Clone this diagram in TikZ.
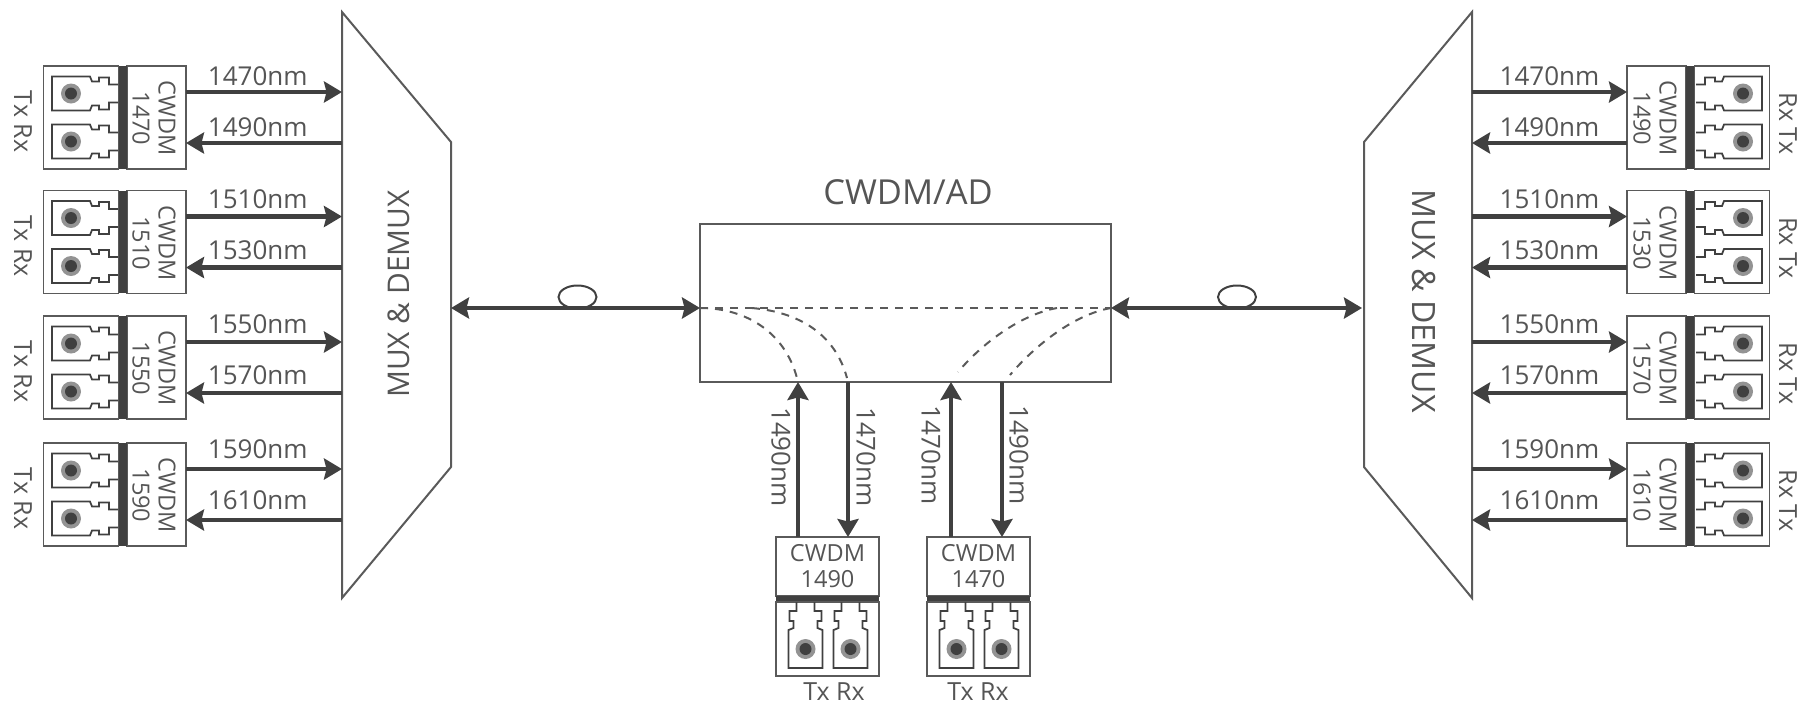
\documentclass[tikz,border=0pt]{standalone}
\usepackage{fontspec}
\setmainfont{Open Sans}
\usetikzlibrary{positioning,arrows.meta}
\definecolor{linegray}{HTML}{5A5A5A}
\definecolor{fibergray}{HTML}{404040}
\definecolor{txtgray}{HTML}{555555}
\tikzset{
  fibertip/.tip={Stealth[length=.36cm,width=.42cm,inset=.05cm]},
  fiber/.style={draw=fibergray,line width=.09cm,-fibertip},
  bifiber/.style={draw=fibergray,line width=.08cm,fibertip-fibertip},
  thinbox/.style={draw=linegray,line width=.035cm,inner sep=0pt,outer sep=0pt},
  sidelbl/.style={thinbox,minimum width=1.18cm,minimum height=2.06cm},
  sideport/.style={thinbox,minimum width=1.5cm,minimum height=2.06cm},
  sidebar/.style={inner sep=0pt,outer sep=0pt,fill=fibergray,minimum width=.17cm,minimum height=2.06cm},
  botlbl/.style={thinbox,minimum width=2.06cm,minimum height=1.18cm},
  botport/.style={thinbox,minimum width=2.06cm,minimum height=1.48cm},
  botbar/.style={inner sep=0pt,outer sep=0pt,fill=fibergray,minimum width=2.06cm,minimum height=.12cm},
  nmtxt/.style={text=txtgray,font=\fontsize{14.8}{17}\selectfont,inner sep=2pt},
  cwtxt/.style={text=txtgray,font=\fontsize{13.4}{14.8}\selectfont,align=center,inner sep=0pt},
  sidetxt/.style={text=txtgray,font=\fontsize{14.2}{17}\selectfont,inner sep=0pt},
  muxtxt/.style={text=txtgray,inner sep=0pt},
  dashline/.style={draw=linegray,line width=.04cm,dash pattern=on .16cm off .14cm},
  lcport/.pic={
    \draw[fibergray,line width=.035cm] (-9,0) -- (-9,9) -- (-16,9) -- (-16,19) -- (-12,19) -- (-12,26)
      -- (-17,28) -- (-17,66) -- (17,66) -- (17,28) -- (12,26) -- (12,19) -- (16,19) -- (16,9) -- (9,9) -- (9,0);
    \fill[gray!85] (0,47) circle [radius=10];
    \fill[fibergray] (0,47) circle [radius=6];
  }
}
\begin{document}
\begin{tikzpicture}[x=.02cm,y=-.02cm]
\useasboundingbox (0,0) rectangle (1806,704);

% mux blocks
\coordinate (muxlt) at (342,12);
\coordinate (muxlb) at (342,598);
\coordinate (muxlp) at (451,308);
\coordinate (muxrt) at (1472,12);
\coordinate (muxrb) at (1472,598);
\coordinate (muxrp) at (1362,308);
\draw[linegray,line width=.04cm] (muxlt) -- (451,142) -- (451,467) -- (muxlb) -- cycle;
\draw[linegray,line width=.04cm] (muxrt) -- (1364,142) -- (1364,467) -- (muxrb) -- cycle;
\node[muxtxt,font=\fontsize{17}{20}\selectfont,rotate=90] (muxltxt) at (399,294) {MUX \& DEMUX};
\node[muxtxt,font=\fontsize{18.3}{20}\selectfont,rotate=-90] (muxrtxt) at (1424,301) {MUX \& DEMUX};

% left and right modules
\foreach \row/\ym/\lift/\nma/\nmb/\cwr in {1/117.5/0/1470/1490/1490,2/242/1/1510/1530/1530,3/367.5/1.5/1550/1570/1570,4/494.5/2.5/1590/1610/1610}{
  \coordinate (la\row) at (342,\ym-25.5);
  \coordinate (lb\row) at (342,\ym+25.5);
  \coordinate (ra\row) at (1472,\ym-25.5);
  \coordinate (rb\row) at (1472,\ym+25.5);

  \node[sidelbl] (cwl\row) at (156.5,\ym) {};
  \node[sidebar,left=0pt of cwl\row] (barl\row) {};
  \node[sideport,left=0pt of barl\row] (portl\row) {};
  \node[cwtxt,rotate=-90] (cwltxt\row) at (154,\ym+1) {CWDM\\\nma};
  \pic[rotate=-90] at (118,\ym-24) {lcport};
  \pic[rotate=-90] at (118,\ym+24) {lcport};
  \node[sidetxt,rotate=-90] (txl\row) at (23,\ym+4) {Tx Rx};

  \node[sidelbl] (cwr\row) at (1656.5,\ym) {};
  \node[sidebar,right=0pt of cwr\row] (barr\row) {};
  \node[sideport,right=0pt of barr\row] (portr\row) {};
  \node[cwtxt,rotate=-90] (cwrtxt\row) at (1655,\ym+1) {CWDM\\\cwr};
  \pic[rotate=90] at (1696,\ym-24) {lcport};
  \pic[rotate=90] at (1696,\ym+24) {lcport};
  \node[sidetxt,rotate=-90] (txr\row) at (1788,\ym+6) {Rx Tx};

  \draw[fiber] (cwl\row.east |- la\row) -- node[nmtxt,above,pos=.46,yshift=\lift pt] {\nma nm} (la\row);
  \draw[fiber] (lb\row) -- node[nmtxt,above,pos=.54,yshift=\lift pt] {\nmb nm} (cwl\row.east |- lb\row);
  \draw[fiber] (ra\row) -- node[nmtxt,above,pos=.5,yshift=\lift pt] {\nma nm} (cwr\row.west |- ra\row);
  \draw[fiber] (cwr\row.west |- rb\row) -- node[nmtxt,above,pos=.5,yshift=\lift pt] {\nmb nm} (rb\row);
}

% add/drop box
\node[thinbox,minimum width=8.22cm,minimum height=3.16cm] (adbox) at (905.5,303) {};
\node[text=txtgray,font=\fontsize{19.6}{22}\selectfont,above=.38cm of adbox,xshift=.05cm,inner sep=0pt] (adtxt) {CWDM/AD};
\coordinate (adw) at (adbox.west |- muxlp);
\coordinate (ade) at (adbox.east |- muxlp);
\draw[bifiber] (muxlp) -- (adw);
\draw[bifiber] (ade) -- (muxrp);
\draw[fibergray,line width=.04cm] (577.5,297) ellipse [x radius=19,y radius=11.5];
\draw[fibergray,line width=.04cm] (1237,297) ellipse [x radius=19,y radius=11.5];

% bottom modules
\foreach \mod/\xm/\nma/\txtx in {1/827.5/1490/834,2/978.5/1470/978}{
  \node[botlbl] (cwb\mod) at (\xm,566.5) {};
  \node[botbar,below=0pt of cwb\mod] (barb\mod) {};
  \node[botport,below=0pt of barb\mod] (portb\mod) {};
  \node[cwtxt] (cwbtxt\mod) at (cwb\mod) {CWDM\\\nma};
  \pic at (\xm-22,602) {lcport};
  \pic at (\xm+23,602) {lcport};
  \node[sidetxt] (txb\mod) at (\txtx,692) {Tx Rx};
}
\coordinate (ada) at (798,382);
\coordinate (adb) at (848,382);
\coordinate (adc) at (951,382);
\coordinate (add) at (1002,382);
\draw[fiber] (cwb1.north -| ada) -- (ada);
\draw[fiber] (adb) -- (cwb1.north -| adb);
\draw[fiber] (cwb2.north -| adc) -- (adc);
\draw[fiber] (add) -- (cwb2.north -| add);
\node[nmtxt,rotate=-90] (lba) at (781,457) {1490nm};
\node[nmtxt,rotate=-90] (lbb) at (866,457) {1470nm};
\node[nmtxt,rotate=-90] (lbc) at (931,455) {1470nm};
\node[nmtxt,rotate=-90] (lbd) at (1019,455) {1490nm};

% dashed paths inside the box
\coordinate (adl) at (752,308);
\coordinate (adr) at (1057,308);
\coordinate (ada2) at (797,378);
\coordinate (adb2) at (847,378);
\coordinate (adc2) at (958,372);
\coordinate (add2) at (1010,375);
\draw[dashline] (adw) -- (ade);
\draw[dashline] (adw) to[out=0,in=105] (ada2);
\draw[dashline] (adl) to[out=-5,in=105] (adb2);
\draw[dashline] (adr) to[out=190,in=50,looseness=.8] (adc2);
\draw[dashline] (ade) to[out=190,in=50,looseness=.8] (add2);
\end{tikzpicture}
\end{document}
